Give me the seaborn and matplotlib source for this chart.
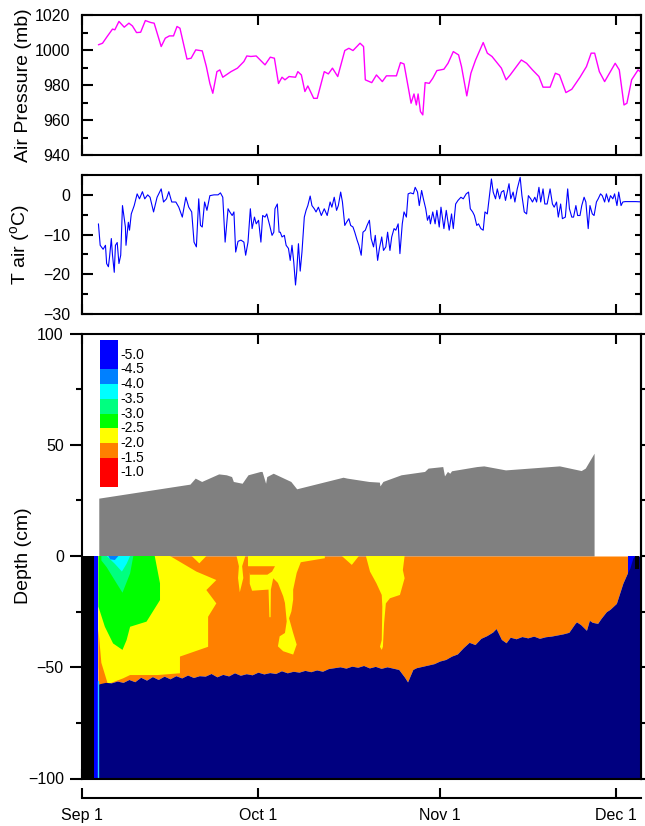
import numpy as np
import matplotlib
matplotlib.use("Agg")
import matplotlib.pyplot as plt
import seaborn as sns
from matplotlib.ticker import MultipleLocator

sns.set_theme(style="ticks", rc={"axes.edgecolor": "black", "xtick.color": "black",
                                 "ytick.color": "black", "text.color": "black",
                                 "axes.labelcolor": "black"})
plt.rcParams["font.family"] = ["Liberation Sans", "DejaVu Sans"]
plt.rcParams["mathtext.fontset"] = "custom"
plt.rcParams["mathtext.rm"] = "Liberation Sans"
plt.rcParams["mathtext.it"] = "Liberation Sans:italic"
plt.rcParams["mathtext.bf"] = "Liberation Sans:bold"

# ---------------- data (x = days since Sep 1) ----------------
month_days = [0, 30, 61, 91]
month_labels = ["Sep 1", "Oct 1", "Nov 1", "Dec 1"]

pres_day = [2.8, 3.5, 4.3, 5.2, 5.6, 6.3, 7.2, 8.0, 8.6, 9.3,
            10.0, 10.8, 11.7, 12.3, 13.5, 14.2, 14.9, 15.6, 16.2, 16.7,
            17.9, 18.6, 19.4, 20.5, 21.2, 21.8, 22.3, 23.0, 23.5, 24.0,
            25.4, 26.5, 27.6, 28.1, 28.8, 29.7, 31.2, 32.1, 32.8, 33.5,
            34.1, 34.6, 35.3, 36.4, 36.8, 37.4, 38.0, 38.5, 39.5, 40.1,
            41.3, 42.0, 42.7, 43.6, 44.8, 45.5, 46.2, 47.4, 48.0, 48.3,
            49.4, 50.2, 51.2, 51.9, 53.6, 54.3, 54.9, 55.7, 56.1, 56.6,
            57.0, 57.3, 57.7, 58.1, 58.5, 59.2, 59.8, 60.5, 61.7, 62.4,
            63.3, 64.2, 64.7, 65.6, 66.3, 67.1, 68.4, 69.1, 69.9, 71.5,
            72.3, 73.0, 74.9, 75.8, 76.8, 77.9, 78.6, 79.8, 80.7, 81.4,
            82.5, 83.5, 84.9, 86.0, 86.8, 87.4, 88.2, 89.1, 90.9, 91.6,
            92.4, 92.9, 93.7, 94.8, 95.5]
pres_mb = [1003.2, 1004.1, 1008.0, 1012.2, 1011.8, 1016.6, 1013.3, 1015.6, 1014.0, 1010.2,
           1010.4, 1017.1, 1016.0, 1015.6, 1002.2, 1007.0, 1008.3, 1008.3, 1013.7, 1012.7,
           995.0, 995.5, 1000.3, 999.7, 990.7, 981.0, 975.4, 987.8, 988.8, 984.6,
           987.8, 989.8, 993.6, 996.8, 996.5, 996.8, 991.7, 996.1, 995.5, 981.0,
           984.6, 983.1, 985.0, 984.6, 987.8, 985.9, 976.4, 979.6, 972.5, 972.5,
           987.8, 986.5, 989.8, 985.0, 999.9, 1001.2, 999.9, 1004.1, 1002.2, 983.1,
           981.5, 985.9, 982.1, 985.4, 985.4, 993.0, 992.2, 977.3, 969.7, 975.0,
           968.7, 975.0, 964.9, 963.0, 981.5, 981.1, 984.0, 988.4, 989.2, 992.6,
           999.3, 997.4, 990.7, 973.9, 986.9, 994.5, 1004.5, 998.4, 996.5, 989.8,
           983.1, 985.9, 994.5, 992.6, 988.8, 985.0, 978.9, 978.9, 986.9, 985.9,
           975.8, 977.7, 984.6, 990.7, 998.4, 998.4, 987.8, 982.1, 992.6, 988.8,
           968.7, 969.7, 983.1, 988.8, 986.9]

tair_day = [2.8, 3.1, 3.6, 4.0, 4.2, 4.5, 4.7, 5.0, 5.2, 5.5,
            5.7, 6.0, 6.3, 6.6, 6.9, 7.4, 7.5, 7.9, 8.1, 8.4,
            8.9, 9.4, 9.8, 10.3, 10.7, 11.2, 11.6, 12.2, 12.8, 13.5,
            13.9, 14.4, 14.8, 15.3, 16.0, 16.5, 17.1, 17.7, 18.2, 18.7,
            19.1, 19.5, 19.9, 20.2, 20.5, 20.9, 21.3, 21.8, 22.5, 23.2,
            23.6, 24.0, 24.4, 24.9, 25.2, 25.6, 25.9, 26.2, 26.6, 27.1,
            27.6, 27.9, 28.3, 28.7, 29.0, 29.4, 29.7, 30.1, 30.5, 30.8,
            31.2, 31.5, 32.0, 32.4, 32.7, 32.9, 33.3, 33.6, 33.8, 34.1,
            34.5, 34.8, 35.2, 35.5, 35.8, 36.1, 36.4, 36.6, 36.9, 37.2,
            37.5, 37.9, 38.2, 38.5, 38.9, 39.2, 39.6, 39.9, 40.3, 40.8,
            41.3, 41.8, 42.3, 42.6, 43.0, 43.4, 43.7, 44.1, 44.4, 44.8,
            45.1, 45.5, 45.8, 46.2, 46.5, 46.9, 47.2, 47.6, 47.9, 48.3,
            48.6, 49.0, 49.3, 49.7, 50.0, 50.4, 50.7, 51.1, 51.4, 51.8,
            52.1, 52.5, 52.8, 53.2, 53.5, 53.9, 54.2, 54.6, 54.9, 55.3,
            55.6, 56.0, 56.5, 56.8, 57.2, 57.5, 57.9, 58.2, 58.6, 58.9,
            59.2, 59.4, 59.8, 60.2, 60.5, 60.9, 61.2, 61.7, 62.1, 62.6,
            63.0, 63.3, 63.7, 64.1, 64.6, 65.0, 65.5, 65.9, 66.2, 66.6,
            66.9, 67.3, 67.6, 68.0, 68.4, 68.7, 69.1, 69.4, 69.8, 70.1,
            70.5, 70.8, 71.2, 71.5, 71.9, 72.2, 72.8, 73.1, 73.5, 73.8,
            74.2, 74.7, 75.0, 75.4, 75.8, 76.1, 76.5, 76.8, 77.2, 77.5,
            77.9, 78.2, 78.6, 78.9, 79.3, 79.8, 80.2, 80.5, 80.9, 81.2,
            81.6, 81.9, 82.4, 82.8, 83.1, 83.5, 83.8, 84.2, 84.5, 84.9,
            85.2, 85.6, 85.9, 86.3, 86.6, 87.0, 87.3, 87.7, 88.0, 88.4,
            88.7, 89.1, 89.4, 89.8, 90.1, 90.5, 90.8, 91.2, 91.5, 91.9,
            92.2, 92.6, 93.3, 94.4, 95.8]
tair_c = [-7.3, -12.7, -13.7, -12.7, -17.3, -18.1, -15.6, -11.0, -15.2, -19.5,
          -12.7, -12.0, -17.3, -15.2, -2.7, -8.1, -12.7, -6.9, -8.9, -4.8,
          -2.7, 0.25, -1.0, 0.8, -1.0, 0.0, -0.6, -4.3, -0.6, 1.5,
          -1.8, -1.0, 0.8, -1.8, -1.8, -3.1, -5.6, -0.6, -3.1, -4.3,
          -11.9, -13.1, -1.0, -7.7, -8.1, -1.8, -3.9, -0.2, 0.0, 0.0,
          0.5, -0.6, -11.9, -3.5, -4.3, -5.2, -4.3, -14.4, -11.7, -11.4,
          -11.9, -15.2, -11.9, -3.5, -8.5, -5.6, -7.3, -6.4, -11.9, -5.2,
          -5.6, -4.8, -7.7, -10.2, -9.4, -3.5, -2.3, -9.4, -9.4, -10.6,
          -10.2, -12.7, -13.5, -16.5, -12.7, -16.9, -22.7, -19.4, -12.3, -19.2,
          -14.4, -5.6, -3.9, -2.7, -0.3, -2.7, -3.5, -4.3, -3.1, -5.2,
          -3.5, -5.2, -1.8, -3.1, -0.6, -3.9, -2.7, 0.7, -1.8, -7.7,
          -6.9, -6.0, -7.7, -8.1, -9.4, -11.4, -12.7, -15.2, -9.4, -8.9,
          -7.7, -6.4, -11.0, -13.1, -10.2, -16.5, -13.5, -10.6, -14.0, -13.1,
          -9.4, -14.0, -10.6, -8.5, -8.9, -7.3, -14.8, -7.3, -4.3, -5.6,
          0.25, 0.5, 0.25, 1.9, 0.7, -2.7, 1.1, -1.0, -3.5, -6.4,
          -5.2, -7.3, -4.3, -7.3, -3.9, -8.1, -3.1, -8.5, -3.9, -8.9,
          -4.8, -8.5, -2.3, -1.4, -0.6, -1.0, 0.25, 0.7, -3.5, -4.3,
          -5.2, -7.7, -7.3, -8.5, -8.9, -4.3, -4.8, -1.0, 4.0, 0.7,
          -1.0, 1.5, -1.0, 0.7, 1.1, -1.4, 2.8, -1.0, 0.7, -1.8,
          1.5, 4.4, -0.2, -4.3, -4.8, -0.2, -1.0, -1.8, -0.6, -1.8,
          1.9, -1.8, 1.5, -2.3, -2.3, 1.5, -2.3, -3.1, -1.8, -5.6,
          -2.3, -6.0, -5.6, 1.5, -3.5, -5.6, -5.6, -2.7, -5.2, -5.2,
          -2.7, -0.6, -1.8, -8.5, -2.7, -4.8, -5.2, -1.8, -1.0, 0.25,
          -0.2, -1.8, 0.25, -1.8, -0.2, -1.0, 0.25, -2.7, 0.7, -2.7,
          -1.8, -1.7, -1.7, -1.7, -1.8]

# snow depth (cm, positive up)
snow_day = [2.86, 18.4, 19.3, 20.4, 23.3, 24.6, 25.5, 25.8, 27.3, 28.3,
            30.4, 30.7, 31.3, 31.5, 32.6, 35.6, 36.6, 44.5, 45.2, 48.9,
            50.7, 50.8, 51.3, 51.8, 54.4, 58.4, 59.0, 61.5, 61.8, 62.3,
            62.7, 63.0, 67.3, 68.5, 72.2, 81.4, 85.1, 85.8, 87.3]
snow_cm = [26.0, 32.3, 35.0, 33.5, 36.9, 36.5, 35.7, 33.5, 32.7, 36.5,
           38.0, 38.0, 32.7, 35.7, 37.2, 33.5, 30.2, 35.4, 35.0, 33.5,
           33.2, 31.5, 33.5, 34.0, 36.5, 38.0, 39.5, 40.2, 36.0, 38.0,
           37.2, 38.3, 40.2, 40.5, 38.7, 40.5, 38.4, 39.5, 46.2]

# depth of the bottom of the temperature field (top of navy zone)
frost_day = [2.8, 4, 5, 6, 7, 8, 9, 10, 11, 12, 13, 14, 15, 16, 17, 18, 19, 20, 21, 22,
             23, 24, 25, 26, 27, 28, 29, 30, 31, 32, 33, 34, 35, 36, 37, 38, 39, 40, 41, 42,
             43, 44, 45, 46, 47, 48, 49, 50, 51, 52, 53, 54, 55, 55.5, 56.4, 57, 58, 59, 60, 61,
             62, 63, 64, 65, 66, 67, 68, 69, 70, 70.6, 71.5, 72.3, 73, 74, 75, 76, 77, 78, 79, 80,
             81, 82, 83, 84, 84.3, 85, 86, 86.5, 87, 87.9, 88.5, 89.4, 90, 91.1, 92.2, 93.0, 93.4,
             93.9, 94.2]
frost_cm = [-57.5, -56.8, -57.0, -56.2, -56.8, -55.5, -56.5, -54.5, -55.8, -54.2,
            -55.5, -54.0, -55.2, -53.8, -54.8, -53.5, -54.6, -53.8, -54.0, -52.8,
            -54.3, -53.2, -53.9, -52.5, -53.6, -52.9, -53.4, -52.2, -53.0, -52.4,
            -52.8, -51.6, -52.5, -51.8, -52.2, -51.4, -52.0, -51.2, -51.8, -50.6,
            -50.2, -49.8, -50.4, -49.5, -50.0, -49.2, -50.3, -49.6, -50.5, -49.8,
            -50.4, -51.0, -54.5, -56.6, -51.0, -50.2, -49.6, -49.0, -48.4, -47.2,
            -46.5, -45.0, -44.0, -41.2, -38.8, -39.8, -37.0, -35.8, -34.2, -32.6,
            -37.5, -39.0, -36.5, -37.2, -36.2, -36.8, -36.0, -37.0, -36.3, -36.0,
            -35.5, -35.0, -34.3, -30.5, -29.6, -30.8, -33.4, -28.9, -29.8, -30.3,
            -28.0, -25.0, -24.0, -21.3, -12.3, -7.5, -5.4, -1.0, 0.0]

# isotherm zone outlines (day, depth cm)
yel_early_day = [2.8, 15.0, 19.5, 22.9, 21.2, 22.9, 21.5, 21.5, 16.7, 16.7, 12.9, 8.2, 7.0, 4.5, 3.3, 2.8]
yel_early_cm = [0, 0, -7.0, -10.8, -15.3, -21.3, -27.3, -40.8, -45.2, -52.7, -53.5, -53.5, -55.0, -57.5, -57.5, -50.0]
yel_tri1_day = [18.7, 21.2, 20.0]
yel_tri1_cm = [0, 0, -3.3]
yel_spike1_day = [26.35, 27.85, 27.3, 27.5, 26.9, 26.6, 26.75]
yel_spike1_cm = [0, 0, -4.6, -9.9, -16.3, -9.9, -4.6]
yel_mid_day = [28.3, 41.4, 41.4, 37.3, 36.6, 36.0, 36.0, 35.7, 35.3, 36.0, 36.6, 36.0, 34.3, 33.4,
               33.7, 34.6, 34.9, 34.6, 34.3, 33.4, 32.6, 32.2, 32.15, 31.95, 31.8, 29.0, 28.6, 28.6, 28.3]
yel_mid_cm = [0, 0, -1.0, -2.8, -7.6, -15.1, -19.6, -24.9, -28.0, -34.6, -39.8, -44.3, -42.8, -40.6,
              -36.1, -34.6, -29.4, -21.1, -18.1, -12.1, -10.0, -15.1, -27.5, -27.5, -15.1, -15.6, -12.5, -8.4, -4.6]
org_notch_day = [28.3, 32.9, 32.4, 31.6, 28.6, 28.3]
org_notch_cm = [-4.6, -4.6, -7.0, -8.4, -8.4, -6.0]
yel_tri2_day = [44.3, 47.2, 46.0]
yel_tri2_cm = [0, 0, -4.0]
yel_spike4_day = [48.4, 55.0, 54.7, 55.0, 54.2, 52.5, 51.8, 51.5, 51.3, 51.1, 50.8, 51.1, 51.2, 51.1, 50.2, 49.1]
yel_spike4_cm = [0, 0, -6.3, -10.0, -17.5, -19.0, -21.3, -30.3, -40.8, -42.2, -40.8, -37.8, -22.8, -17.5, -12.3, -7.0]
org_edge_day = [2.8, 3.3, 4.4, 2.8]
org_edge_cm = [-33.0, -48.0, -57.5, -57.5]
grn_day = [2.8, 12.4, 13.3, 13.3, 11.0, 8.2, 7.6, 6.9, 5.3, 3.9, 2.8]
grn_cm = [0, 0, -12.3, -19.8, -29.5, -31.8, -37.8, -42.2, -39.3, -31.8, -22.8]
teal_day = [3.3, 8.75, 8.2, 6.9, 5.6, 4.2, 3.3]
teal_cm = [0, 0, -7.8, -16.5, -11.0, -5.0, -2.0]
cyan_day = [4.2, 8.2, 7.6, 6.8, 5.6]
cyan_cm = [0, 0, -3.5, -7.0, -3.5]
dblue_day = [4.5, 6.2, 5.6, 4.8]
dblue_cm = [0, 0, -1.8, -1.5]

legend_labels = ["-5.0", "-4.5", "-4.0", "-3.5", "-3.0", "-2.5", "-2.0", "-1.5", "-1.0"]
legend_colors = ["#0000FF", "#0080FF", "#00FFFF", "#00FF80", "#00FF00", "#FFFF00", "#FF8000", "#FF0000"]

C_ORANGE, C_YELLOW, C_GREEN, C_TEAL = "#FF8000", "#FFFF00", "#00FF00", "#00FF80"
C_CYAN, C_DBLUE, C_BLUE, C_NAVY = "#00FFFF", "#0080FF", "#0000FF", "#000080"

XMAX = 95.3
TICK_FS = 11.5
LABEL_FS = 14

# ---------------- figure ----------------
fig = plt.figure(figsize=(6.45, 8.26), dpi=100)
L, W = 82 / 645, 559 / 645
ax1 = fig.add_axes([L, 1 - 155 / 826, W, 139.5 / 826])
ax2 = fig.add_axes([L, 1 - 314 / 826, W, 139 / 826])
ax3 = fig.add_axes([L, 1 - 778.5 / 826, W, 445 / 826])
axd = fig.add_axes([L, 1 - 798 / 826, W, 0.0001])


def frame(ax):
    for s in ax.spines.values():
        s.set_visible(True)
        s.set_linewidth(1.5)
        s.set_color("black")
    ax.set_xlim(0, XMAX)
    ax.set_xticks(month_days)
    ax.set_xticklabels([])
    ax.tick_params(axis="x", which="both", direction="in", length=7, width=1.5,
                   top=True, bottom=True, labelbottom=False)
    ax.grid(False)


# --- top: pressure
sns.lineplot(x=pres_day, y=pres_mb, ax=ax1, color="#FF00FF", lw=1.0, estimator=None, sort=False)
frame(ax1)
ax1.set_ylim(940, 1020)
ax1.set_yticks(range(940, 1021, 20))
ax1.yaxis.set_minor_locator(MultipleLocator(10))
ax1.tick_params(axis="y", which="major", direction="in", length=8, width=1.5,
                left=True, right=False, labelsize=TICK_FS, pad=8.5)
ax1.tick_params(axis="y", which="minor", direction="in", length=4.5, width=1.5, left=True, right=False)
s1 = ax1.secondary_yaxis("right")
s1.set_yticks(range(940, 1021, 10))
s1.tick_params(direction="in", length=4.5, width=1.5, labelright=False)
s1.spines["right"].set_linewidth(1.5)
ax1.set_ylabel("Air Pressure (mb)", fontsize=LABEL_FS)
ax1.yaxis.set_label_coords(-0.089, 0.5)

# --- middle: air temperature
sns.lineplot(x=tair_day, y=tair_c, ax=ax2, color="#0000FF", lw=0.8, estimator=None, sort=False)
frame(ax2)
ax2.set_ylim(-30, 5)
ax2.set_yticks([-30, -20, -10, 0])
ax2.yaxis.set_minor_locator(MultipleLocator(5))
ax2.tick_params(axis="y", which="major", direction="in", length=8, width=1.5,
                left=True, right=False, labelsize=TICK_FS, pad=8.5)
ax2.tick_params(axis="y", which="minor", direction="in", length=4.5, width=1.5, left=True, right=False)
s2 = ax2.secondary_yaxis("right")
s2.set_yticks(range(-30, 6, 5))
s2.tick_params(direction="in", length=4.5, width=1.5, labelright=False)
s2.spines["right"].set_linewidth(1.5)
ax2.set_ylabel(r"T air ($^{\rm o}$C)", fontsize=LABEL_FS)
ax2.yaxis.set_label_coords(-0.089, 0.5)

# --- bottom: snow + soil temperature
ax3.fill_between([0, 2.05], -100, 0, color="black", lw=0)
ax3.fill_between([2.05, 2.75], -100, 0, color=C_BLUE, lw=0)
ax3.fill_between(snow_day, 0, snow_cm, color="#808080", lw=0)
ax3.fill_between(frost_day, frost_cm, 0, color=C_ORANGE, lw=0)
zones = [
    (yel_early_day, yel_early_cm, C_YELLOW),
    (yel_tri1_day, yel_tri1_cm, C_YELLOW),
    (yel_spike1_day, yel_spike1_cm, C_YELLOW),
    (yel_mid_day, yel_mid_cm, C_YELLOW),
    (org_notch_day, org_notch_cm, C_ORANGE),
    (yel_tri2_day, yel_tri2_cm, C_YELLOW),
    (yel_spike4_day, yel_spike4_cm, C_YELLOW),
    (org_edge_day, org_edge_cm, C_ORANGE),
    (grn_day, grn_cm, C_GREEN),
    (teal_day, teal_cm, C_TEAL),
    (cyan_day, cyan_cm, C_CYAN),
    (dblue_day, dblue_cm, C_DBLUE),
]
for zd, zc, col in zones:
    ax3.fill(zd, zc, color=col, lw=0)
ax3.fill_between([93.1, 94.2], -8, 0, color=C_BLUE, lw=0)
navy_day = frost_day + [XMAX]
navy_cm = frost_cm + [0.0]
ax3.fill_between(navy_day, -100, navy_cm, color=C_NAVY, lw=0)
ax3.fill_between([94.2, 95.0], -6, 0, color="black", lw=0)
ax3.plot([2.75, 2.75], [-56, -100], color="#33CCFF", lw=1.0)

frame(ax3)
ax3.set_ylim(-100, 100)
ax3.set_yticks([-100, -50, 0, 50, 100])
ax3.yaxis.set_minor_locator(MultipleLocator(25))
ax3.tick_params(axis="y", which="major", direction="out", length=8.6, width=1.5,
                left=True, right=False, labelsize=TICK_FS, pad=4.5)
ax3.tick_params(axis="y", which="minor", direction="out", length=4.3, width=1.5, left=True, right=False)
s3 = ax3.secondary_yaxis("right")
s3.set_yticks(range(-100, 101, 25))
s3.tick_params(direction="out", length=3.6, width=1.5, labelright=False)
s3.spines["right"].set_linewidth(1.5)
ax3.set_ylabel("Depth (cm)", fontsize=LABEL_FS)
ax3.yaxis.set_label_coords(-0.089, 0.5)

# --- legend (colour key)
axl = fig.add_axes([100 / 645, 1 - 487 / 826, 17.7 / 645, 147 / 826])
leg_heights = [2, 1, 1, 1, 1, 1, 1, 2]
leg_bottoms = np.concatenate([[0], np.cumsum(leg_heights)[:-1]])
axl.bar(0.5, leg_heights, bottom=leg_bottoms, width=1, color=legend_colors, lw=0)
axl.set_xlim(0, 1)
axl.set_ylim(10, 0)
axl.axis("off")
for i, lab in enumerate(legend_labels):
    axl.text(1.17, i + 1, lab, fontsize=10, ha="left", va="center", clip_on=False)

# --- separate date axis
for k in ["top", "left", "right"]:
    axd.spines[k].set_visible(False)
axd.spines["bottom"].set_linewidth(1.5)
axd.spines["bottom"].set_color("black")
axd.set_xlim(0, XMAX)
axd.set_xticks(month_days)
axd.set_xticklabels(month_labels)
axd.tick_params(axis="x", direction="in", length=7, width=1.5, labelsize=TICK_FS, pad=7)
axd.set_yticks([])
axd.patch.set_alpha(0)

fig.savefig("out.png", dpi=100)
